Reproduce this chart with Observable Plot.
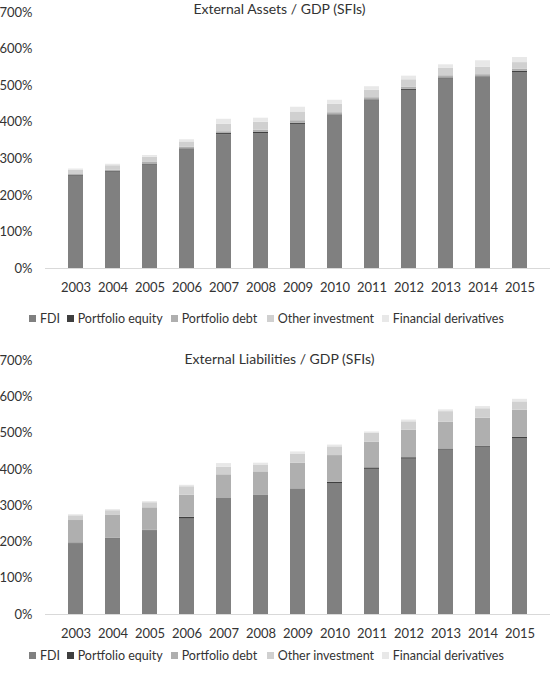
<!DOCTYPE html>
<html>
<head>
<meta charset="utf-8">
<script src="https://cdn.jsdelivr.net/npm/d3@7"></script>
<script src="https://cdn.jsdelivr.net/npm/@observablehq/plot@0.6"></script>
<style>
  body { margin: 0; background: #fff; font-family: Lato, "Open Sans", sans-serif; }
  #root { position: relative; width: 553px; height: 673px; overflow: hidden; }
  .panel { position: absolute; left: 0; }
  .legend { position: absolute; left: 0; width: 553px; height: 16px; font-size: 12.5px; color: #333; }
  .item { position: absolute; top: 0; display: flex; align-items: center; height: 16px; white-space: nowrap; }
  .sw { width: 7px; height: 7px; margin-right: 4px; }
</style>
</head>
<body>
<div id="root"></div>
<script>
const years = ["2003","2004","2005","2006","2007","2008","2009","2010","2011","2012","2013","2014","2015"];
const categories = ["FDI", "Portfolio equity", "Portfolio debt", "Other investment", "Financial derivatives"];
const colors = ["#808080", "#3f3f3f", "#afafaf", "#d0d0d0", "#e8e8e8"];
const yTicks = [0, 100, 200, 300, 400, 500, 600, 700];

// External Assets / GDP (%)
const assetsFDI    = [252, 263, 282, 324, 366, 369, 394, 417, 458, 487, 518, 521, 536];
const assetsEquity = [2, 2, 2, 3, 3, 3, 3, 3, 3, 3, 3, 3, 3];
const assetsDebt   = [3, 4, 6, 5, 5, 6, 7, 6, 6, 6, 6, 6, 6];
const assetsOther  = [12, 12, 14, 14, 20, 22, 24, 23, 20, 20, 20, 20, 18];
const assetsDeriv  = [3, 4, 5, 6, 14, 11, 13, 11, 10, 10, 10, 18, 14];

// External Liabilities / GDP (%)
const liabFDI    = [195, 208, 231, 263, 320, 328, 345, 361, 400, 428, 453, 461, 485];
const liabEquity = [2, 2, 1, 5, 1, 1, 1, 3, 4, 4, 3, 3, 3];
const liabDebt   = [62, 63, 62, 61, 64, 64, 71, 74, 71, 76, 74, 77, 75];
const liabOther  = [13, 13, 14, 23, 21, 19, 24, 24, 24, 23, 29, 26, 23];
const liabDeriv  = [3, 3, 3, 4, 10, 5, 7, 5, 4, 5, 5, 6, 7];

function rows(series) {
  const out = [];
  years.forEach((yr, i) => {
    categories.forEach((c, k) => out.push({year: yr, type: c, value: series[k][i]}));
  });
  return out;
}

function chart(title, data, top, marginTop, titleDy) {
  const p = Plot.plot({
    width: 553, height: 300,
    marginLeft: 45, marginRight: 3, marginTop: marginTop, marginBottom: 32,
    style: {fontFamily: "Lato, 'Open Sans', sans-serif", fontSize: "13px", color: "#333", background: "#fff"},
    x: {domain: years, padding: 0.59, label: null, tickSize: 0, tickPadding: 14},
    y: {domain: [0, 700], ticks: yTicks, tickFormat: d => d + "%", tickSize: 0, tickPadding: 13, label: null},
    color: {domain: categories, range: colors},
    marks: [
      Plot.barY(data, {x: "year", y: "value", fill: "type", order: categories}),
      Plot.ruleY([0], {stroke: "#d9d9d9", strokeWidth: 1}),
      Plot.text([title], {frameAnchor: "top", lineAnchor: "middle", dy: titleDy, dx: -18.5, fontSize: 14, fill: "#333"})
    ]
  });
  p.classList.add("panel");
  p.style.top = top + "px";
  return p;
}

function legend(top) {
  const d = document.createElement("div");
  d.className = "legend";
  d.style.top = top + "px";
  const xs = [29, 66.7, 170.7, 266.7, 381.7];
  categories.forEach((c, k) => {
    const it = document.createElement("div");
    it.className = "item";
    it.style.left = xs[k] + "px";
    const sw = document.createElement("div");
    sw.className = "sw";
    sw.style.background = colors[k];
    const t = document.createElement("span");
    t.textContent = c;
    it.append(sw, t);
    d.append(it);
  });
  return d;
}

const root = document.getElementById("root");
root.append(chart("External Assets / GDP (SFIs)",
  rows([assetsFDI, assetsEquity, assetsDebt, assetsOther, assetsDeriv]), 0, 12, -2.5));
root.append(legend(310));
root.append(chart("External Liabilities / GDP (SFIs)",
  rows([liabFDI, liabEquity, liabDebt, liabOther, liabDeriv]), 346, 14, -1));
root.append(legend(647));
</script>
</body>
</html>
